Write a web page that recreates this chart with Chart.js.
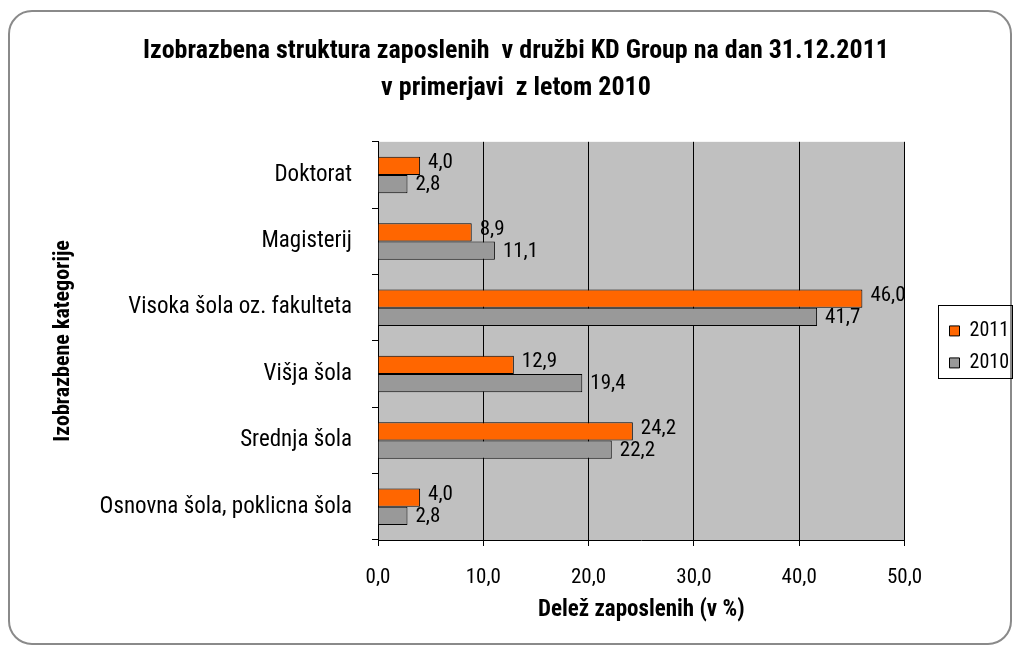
<!DOCTYPE html>
<html>
<head>
<meta charset="utf-8">
<script src="https://cdn.jsdelivr.net/npm/chart.js@4"></script>
<style>
  html, body { margin: 0; padding: 0; background: #fff; }
  #wrap { position: relative; width: 1016px; height: 648px; }
  #frame {
    position: absolute; left: 8px; top: 10px; width: 1000px; height: 631px;
    border: 2px solid #8a8a8a; border-radius: 24px;
  }
  #chart { position: absolute; left: 0; top: 0; }
</style>
</head>
<body>
<div id="wrap">
  <div id="frame"></div>
  <canvas id="chart" width="1016" height="648"></canvas>
</div>
<script>
const categories = [
  'Doktorat',
  'Magisterij',
  'Visoka šola oz. fakulteta',
  'Višja šola',
  'Srednja šola',
  'Osnovna šola, poklicna šola',
];
const values2011 = [4.0, 8.9, 46.0, 12.9, 24.2, 4.0];
const values2010 = [2.8, 11.1, 41.7, 19.4, 22.2, 2.8];
const xTicks = [0, 10, 20, 30, 40, 50];

const fontFamily = '"Roboto Condensed", "Liberation Sans", sans-serif';

const fmt = v => Number(v).toFixed(1).replace('.', ',');

// grey plot area, like the old Excel charts
const plotBackground = {
  id: 'plotBackground',
  beforeDraw(chart) {
    const { ctx, chartArea: a } = chart;
    ctx.save();
    ctx.fillStyle = '#c0c0c0';
    ctx.fillRect(a.left, a.top, a.right - a.left, a.bottom - a.top);
    ctx.restore();
  },
};

// value labels next to the bar ends
const barLabels = {
  id: 'barLabels',
  afterDatasetsDraw(chart) {
    const { ctx } = chart;
    ctx.save();
    ctx.font = '21px ' + fontFamily;
    ctx.fillStyle = '#000';
    ctx.textBaseline = 'middle';
    chart.data.datasets.forEach((ds, i) => {
      const meta = chart.getDatasetMeta(i);
      meta.data.forEach((bar, j) => {
        const dy = i === 0 ? -3 : 1;
        ctx.fillText(fmt(ds.data[j]), bar.x + 8, bar.y + dy);
      });
    });
    ctx.restore();
  },
};

// move the legend a bit away from the plot, centre it on the plot, box round it
const legendBox = {
  id: 'legendBox',
  afterLayout(chart) {
    const l = chart.legend;
    if (!l) return;
    const a = chart.chartArea;
    const dx = a.right + 33 - l.left;
    l.left += dx;
    l.right += dx;
    l.top = a.top + 6;
    l.bottom = a.bottom + 6;
  },
  afterDraw(chart) {
    const l = chart.legend;
    if (!l) return;
    const { ctx, chartArea: a } = chart;
    const mid = (a.top + a.bottom) / 2;
    ctx.save();
    ctx.strokeStyle = '#000';
    ctx.lineWidth = 1;
    ctx.strokeRect(Math.round(l.left) + 0.5, Math.round(mid - 36) + 0.5, 74, 73);
    ctx.restore();
  },
};

new Chart(document.getElementById('chart'), {
  type: 'bar',
  data: {
    labels: categories,
    datasets: [
      {
        label: '2011',
        data: values2011,
        backgroundColor: '#ff6600',
        borderColor: '#000',
        borderWidth: 1,
      },
      {
        label: '2010',
        data: values2010,
        backgroundColor: '#999999',
        borderColor: '#000',
        borderWidth: 1,
      },
    ],
  },
  options: {
    indexAxis: 'y',
    responsive: false,
    animation: false,
    devicePixelRatio: 1,
    categoryPercentage: 0.55,
    barPercentage: 1,
    layout: { padding: { top: 10, left: 46, right: 30, bottom: 20 } },
    plugins: {
      title: {
        display: true,
        text: [
          'Izobrazbena struktura zaposlenih  v družbi KD Group na dan 31.12.2011',
          'v primerjavi  z letom 2010',
        ],
        color: '#000',
        font: { family: fontFamily, size: 26, weight: 'bold', lineHeight: 1.42 },
        padding: { top: 23, bottom: 35 },
      },
      legend: {
        position: 'right',
        labels: {
          color: '#000',
          font: { family: fontFamily, size: 20 },
          boxWidth: 10,
          boxHeight: 10,
          padding: 12,
        },
      },
      tooltip: { enabled: false },
    },
    scales: {
      x: {
        min: 0,
        max: 50,
        afterBuildTicks: s => { s.ticks = xTicks.map(v => ({ value: v })); },
        afterFit: s => { s.height = 648 - 540 - 20; },
        ticks: {
          color: '#000',
          font: { family: fontFamily, size: 21 },
          padding: 19,
          callback: v => fmt(v),
        },
        grid: { color: '#000', lineWidth: 1, tickLength: 6, tickColor: '#000' },
        border: { color: '#000', width: 1 },
        title: {
          display: true,
          text: 'Delež zaposlenih (v %)',
          color: '#000',
          font: { family: fontFamily, size: 23, weight: 'bold' },
          padding: { top: 4, bottom: 4 },
        },
      },
      y: {
        afterFit: s => { s.width = 378 - 46; },
        ticks: {
          color: '#000',
          font: { family: fontFamily, size: 23 },
          padding: 20,
        },
        grid: {
          offset: true,
          drawOnChartArea: false,
          tickLength: 6,
          tickColor: '#000',
        },
        border: { color: '#000', width: 1 },
        title: {
          display: true,
          text: 'Izobrazbene kategorije',
          color: '#000',
          font: { family: fontFamily, size: 22, weight: 'bold' },
        },
      },
    },
  },
  plugins: [plotBackground, barLabels, legendBox],
});
</script>
</body>
</html>
